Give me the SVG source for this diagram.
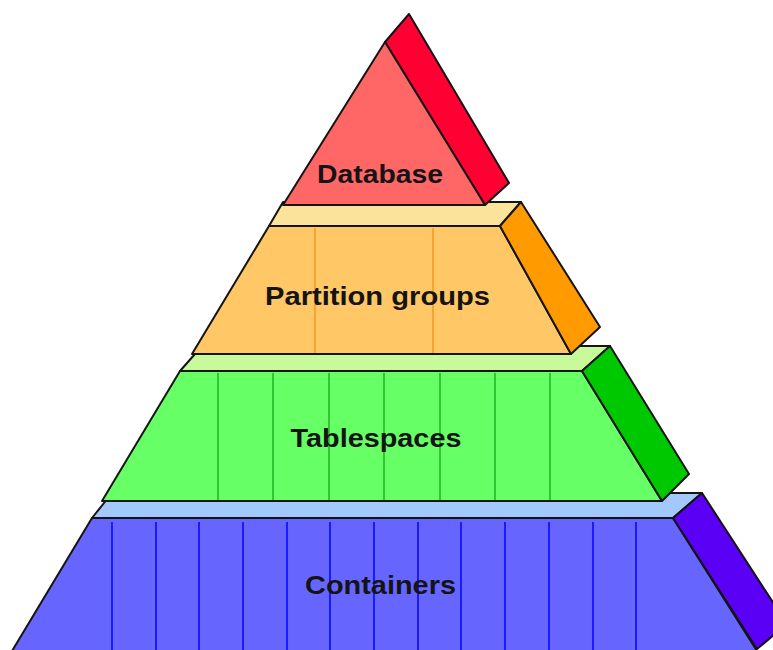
<svg xmlns="http://www.w3.org/2000/svg" width="773" height="650" viewBox="0 0 773 650">
  <style>
    .edge { stroke: #141414; stroke-width: 2; stroke-linejoin: round; }
    .label { font-family: "Liberation Sans", Arial, sans-serif; font-weight: bold; font-size: 26px; fill: #141414; text-anchor: middle; }
    .div-blue { stroke: #1a1aff; stroke-width: 2; }
    .div-green { stroke: #33c433; stroke-width: 2; }
    .div-orange { stroke: #f5a531; stroke-width: 2; }
  </style>
  <rect width="773" height="650" fill="#ffffff"/>

  <!-- Bottom tier: containers -->
  <g id="containers">
    <polygon class="edge" fill="#a3c8fb" points="112,493 702,493 673,518 92,518"/>
    <polygon class="edge" fill="#6666ff" points="92,518 673,518 757,651 12,651"/>
    <polygon class="edge" fill="#5a00f5" points="673,518 702,493 787,624 757,649"/>
    <g class="div-blue">
      <line x1="112" y1="522" x2="112" y2="650"/>
      <line x1="156" y1="522" x2="156" y2="650"/>
      <line x1="199" y1="522" x2="199" y2="650"/>
      <line x1="243" y1="522" x2="243" y2="650"/>
      <line x1="287" y1="522" x2="287" y2="650"/>
      <line x1="330" y1="522" x2="330" y2="650"/>
      <line x1="374" y1="522" x2="374" y2="650"/>
      <line x1="418" y1="522" x2="418" y2="650"/>
      <line x1="461" y1="522" x2="461" y2="650"/>
      <line x1="505" y1="522" x2="505" y2="650"/>
      <line x1="549" y1="522" x2="549" y2="650"/>
      <line x1="593" y1="522" x2="593" y2="650"/>
      <line x1="636" y1="522" x2="636" y2="650"/>
    </g>
    <text class="label" x="380.5" y="594" textLength="151" lengthAdjust="spacingAndGlyphs">Containers</text>
  </g>

  <!-- Third tier: tablespaces -->
  <g id="tablespaces">
    <polygon class="edge" fill="#c8fa9c" points="202,346 610,346 582,371 180,371"/>
    <polygon class="edge" fill="#66ff66" points="180,371 582,371 662,501 102,501"/>
    <polygon class="edge" fill="#00c800" points="582,371 610,346 689,474 662,501"/>
    <g class="div-green">
      <line x1="218" y1="373" x2="218" y2="500"/>
      <line x1="273" y1="373" x2="273" y2="500"/>
      <line x1="329" y1="373" x2="329" y2="500"/>
      <line x1="384" y1="373" x2="384" y2="500"/>
      <line x1="440" y1="373" x2="440" y2="500"/>
      <line x1="495" y1="373" x2="495" y2="500"/>
      <line x1="550" y1="373" x2="550" y2="500"/>
    </g>
    <text class="label" x="376" y="447" textLength="171" lengthAdjust="spacingAndGlyphs">Tablespaces</text>
  </g>

  <!-- Second tier: partition groups -->
  <g id="partition-groups">
    <polygon class="edge" fill="#fbe39b" points="283,202 521,202 500,226 269,226"/>
    <polygon class="edge" fill="#ffc766" points="269,226 500,226 571,354 192,354"/>
    <polygon class="edge" fill="#ff9a00" points="500,226 521,202 600,327 571,354"/>
    <g class="div-orange">
      <line x1="315" y1="228" x2="315" y2="353"/>
      <line x1="433" y1="228" x2="433" y2="353"/>
    </g>
    <text class="label" x="377.5" y="305" textLength="225" lengthAdjust="spacingAndGlyphs">Partition groups</text>
  </g>

  <!-- Top tier: database -->
  <g id="database">
    <polygon class="edge" fill="#ff0033" points="385,42 409,14 509,183 485,205"/>
    <polygon class="edge" fill="#ff6666" points="385,42 485,205 283,205"/>
    <text class="label" x="380" y="183" textLength="126" lengthAdjust="spacingAndGlyphs">Database</text>
  </g>
</svg>
